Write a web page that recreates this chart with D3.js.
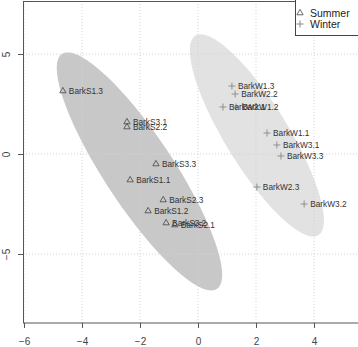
<!DOCTYPE html>
<html><head><meta charset="utf-8">
<script src="https://cdn.jsdelivr.net/npm/d3@7"></script>
<style>body{margin:0;background:#fff}svg{display:block}</style>
</head><body>
<script>
const summerNames = ["BarkS1.3","BarkS3.1","BarkS2.2","BarkS3.3","BarkS1.1","BarkS2.3","BarkS1.2","BarkS3.2","BarkS2.1"];
const summerX = [-4.66,-2.45,-2.45,-1.45,-2.34,-1.20,-1.72,-1.10,-0.80];
const summerY = [3.15,1.60,1.35,-0.50,-1.30,-2.30,-2.85,-3.45,-3.55];
const winterNames = ["BarkW1.3","BarkW2.2","BarkW2.1","BarkW1.2","BarkW1.1","BarkW3.1","BarkW3.3","BarkW2.3","BarkW3.2"];
const winterX = [1.17,1.28,0.86,1.31,2.38,2.72,2.86,2.03,3.66];
const winterY = [3.40,3.00,2.35,2.35,1.05,0.45,-0.10,-1.65,-2.50];
const xTicks = [-6,-4,-2,0,2,4];
const yTicks = [-5,0,5];
const legendLabels = ["Summer","Winter"];
const ellipseLevelChi2 = 5.991; // 95% normal ellipse, 2 df

const W = 358, H = 347;
const pL = 23, pR = 372, pT = 1, pB = 323;
const x = d3.scaleLinear().domain([-6.035, 6.0]).range([pL, pR]);
const y = d3.scaleLinear().domain([-8.45, 7.65]).range([pB, pT]);

const svg = d3.select("body").append("svg").attr("width", W).attr("height", H);
const font = "'Liberation Sans', Arial, Helvetica, sans-serif";

function ellipsePts(xs, ys) {
  const n = xs.length;
  const mx = d3.mean(xs), my = d3.mean(ys);
  let sxx = 0, syy = 0, sxy = 0;
  for (let i = 0; i < n; i++) {
    sxx += (xs[i]-mx)**2; syy += (ys[i]-my)**2; sxy += (xs[i]-mx)*(ys[i]-my);
  }
  sxx /= n-1; syy /= n-1; sxy /= n-1;
  const l11 = Math.sqrt(sxx), l21 = sxy / l11, l22 = Math.sqrt(syy - l21*l21);
  const r = Math.sqrt(ellipseLevelChi2);
  return d3.range(0, 120).map(i => {
    const t = i / 120 * 2 * Math.PI;
    const c = Math.cos(t), s = Math.sin(t);
    return [mx + r * l11 * c, my + r * (l21 * c + l22 * s)];
  });
}
const line = d3.line().x(d => x(d[0])).y(d => y(d[1])).curve(d3.curveLinearClosed);

svg.append("path").attr("d", line(ellipsePts(summerX, summerY))).attr("fill", "#c8c8c8");
svg.append("path").attr("d", line(ellipsePts(winterX, winterY))).attr("fill", "#e2e2e2");

// grid
const g = svg.append("g");
g.selectAll("line.gx").data(xTicks).join("line")
  .attr("x1", d => x(d)).attr("x2", d => x(d)).attr("y1", pT).attr("y2", pB)
  .attr("stroke", "#d3d3d3").attr("stroke-dasharray", "1,2");
g.selectAll("line.gy").data(yTicks).join("line")
  .attr("y1", d => y(d)).attr("y2", d => y(d)).attr("x1", pL).attr("x2", pR)
  .attr("stroke", "#d3d3d3").attr("stroke-dasharray", "1,2");

// frame
svg.append("rect").attr("x", pL + 0.5).attr("y", pT + 0.5)
  .attr("width", pR - pL).attr("height", pB - pT - 0.5)
  .attr("fill", "none").attr("stroke", "#555");

// axes
const xa = svg.append("g").attr("transform", `translate(0,${pB})`)
  .call(d3.axisBottom(x).tickValues(xTicks).tickSize(5).tickPadding(10).tickFormat(d3.format("d")));
xa.select(".domain").remove();
xa.selectAll("line").attr("stroke", "#555");
xa.selectAll("text").attr("font-family", font).attr("font-size", 10).attr("fill", "#444");

const ya = svg.append("g").attr("transform", `translate(${pL},0)`)
  .call(d3.axisLeft(y).tickValues(yTicks).tickSize(5).tickFormat(d3.format("d")));
ya.select(".domain").remove();
ya.selectAll("line").attr("stroke", "#555");
ya.selectAll("text").remove();
ya.selectAll(".tick").append("text")
  .attr("transform", "translate(-13,0) rotate(-90)")
  .attr("text-anchor", "middle").attr("font-family", font).attr("font-size", 10).attr("fill", "#444")
  .text(d => d3.format("d")(d));

// points
const tri = d3.symbol().type(d3.symbolTriangle).size(17);
const summer = summerNames.map((n, i) => ({n, x: summerX[i], y: summerY[i]}));
const winter = winterNames.map((n, i) => ({n, x: winterX[i], y: winterY[i]}));

svg.append("g").selectAll("path").data(summer).join("path")
  .attr("transform", d => `translate(${x(d.x)},${y(d.y)})`).attr("d", tri())
  .attr("fill", "none").attr("stroke", "#444").attr("stroke-width", 0.8);

const wp = svg.append("g").selectAll("g").data(winter).join("g")
  .attr("transform", d => `translate(${x(d.x)},${y(d.y)})`);
wp.append("line").attr("x1", -3.5).attr("x2", 3.5).attr("stroke", "#888").attr("stroke-width", 0.9);
wp.append("line").attr("y1", -3.5).attr("y2", 3.5).attr("stroke", "#888").attr("stroke-width", 0.9);

svg.append("g").selectAll("text").data(summer.concat(winter)).join("text")
  .attr("x", d => x(d.x) + 6).attr("y", d => y(d.y)).attr("dy", "0.35em")
  .attr("font-family", font).attr("font-size", 8.3).attr("fill", "#333")
  .text(d => d.n);

// legend
const lg = svg.append("g");
lg.append("rect").attr("x", 295.5).attr("y", -5).attr("width", 80).attr("height", 40.5)
  .attr("fill", "#fff").attr("stroke", "#444");
lg.append("path").attr("transform", "translate(300,13)").attr("d", tri())
  .attr("fill", "none").attr("stroke", "#444").attr("stroke-width", 0.8);
lg.append("line").attr("x1", 296.5).attr("x2", 303.5).attr("y1", 24).attr("y2", 24).attr("stroke", "#888");
lg.append("line").attr("x1", 300).attr("x2", 300).attr("y1", 20.5).attr("y2", 27.5).attr("stroke", "#888");
lg.selectAll("text").data(legendLabels).join("text")
  .attr("x", 310).attr("y", (d, i) => 13 + i * 11).attr("dy", "0.35em")
  .attr("font-family", font).attr("font-size", 10.5).attr("fill", "#222")
  .text(d => d);
</script>
</body></html>
